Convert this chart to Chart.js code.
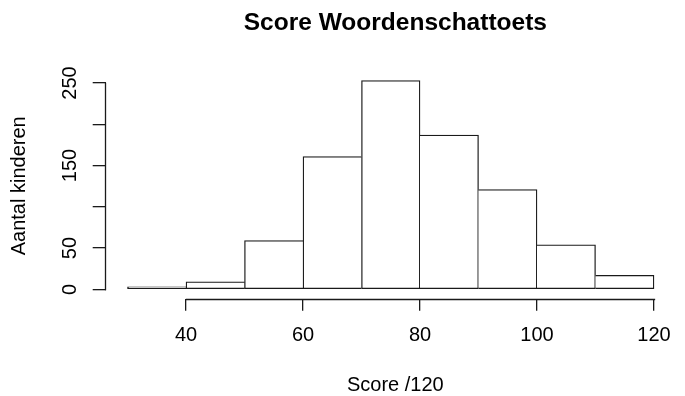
<!DOCTYPE html>
<html><head><meta charset="utf-8">
<script src="https://cdn.jsdelivr.net/npm/chart.js@4"></script>
<style>html,body{margin:0;padding:0;background:#fff}</style>
</head><body>
<canvas id="c" width="685" height="396"></canvas>
<script>
const binStarts = [30, 40, 50, 60, 70, 80, 90, 100, 110];
const binWidth = 10;
const counts = [3, 9, 59, 161, 253, 187, 121, 54, 17];
const xTicks = [40, 60, 80, 100, 120];
const xTickLabels = ['40', '60', '80', '100', '120'];
const yTicks = [0, 50, 100, 150, 200, 250];
const yTickLabels = ['0', '50', '', '150', '', '250'];
const titleText = 'Score Woordenschattoets';
const xTitle = 'Score /120';
const yTitle = 'Aantal kinderen';

const FONT = "'Liberation Sans', Arial, Helvetica, sans-serif";
const LINE = '#1a1a1a';
const LW = 1.3;
Chart.defaults.color = '#000';
Chart.defaults.font.family = FONT;

const points = binStarts.map((s, i) => ({ x: s + binWidth / 2, y: counts[i] }));

const axisLines = {
  id: 'axisLines',
  afterDatasetsDraw(chart) {
    const { ctx, chartArea, scales: { x, y } } = chart;
    ctx.save();
    ctx.strokeStyle = LINE;
    ctx.lineWidth = LW;
    ctx.lineCap = 'square';
    ctx.beginPath();
    const ax = Math.round(chartArea.left) - 0.5;
    ctx.moveTo(ax, Math.round(y.getPixelForValue(yTicks[0])) + 0.5);
    ctx.lineTo(ax, Math.round(y.getPixelForValue(yTicks[yTicks.length - 1])) + 0.5);
    const ay = Math.round(chartArea.bottom) + 0.5;
    ctx.moveTo(Math.round(x.getPixelForValue(xTicks[0])) + 0.5, ay);
    ctx.lineTo(Math.round(x.getPixelForValue(xTicks[xTicks.length - 1])) + 0.5, ay);
    ctx.stroke();
    ctx.restore();
  }
};

new Chart(document.getElementById('c'), {
  type: 'bar',
  data: {
    datasets: [{
      data: points,
      backgroundColor: '#fff',
      borderColor: LINE,
      borderSkipped: false,
      borderWidth: (c) => {
        const i = c.dataIndex;
        const v = counts[i], p = counts[i - 1], n = counts[i + 1];
        return {
          top: LW, bottom: LW,
          left: (p === undefined || p <= v) ? LW : 0,
          right: (n === undefined || n < v) ? LW : 0
        };
      },
      barPercentage: 1,
      categoryPercentage: 1
    }]
  },
  options: {
    responsive: false,
    animation: false,
    devicePixelRatio: 1,
    layout: { padding: 0 },
    plugins: {
      legend: { display: false },
      tooltip: { enabled: false },
      title: {
        display: true,
        text: titleText,
        fullSize: false,
        color: '#000',
        font: { size: 24.5, weight: 'bold', lineHeight: 1.2 },
        padding: { top: 8.8, bottom: 34.1 }
      }
    },
    scales: {
      x: {
        type: 'linear',
        offset: false,
        min: 26.27,
        max: 125.3,
        afterBuildTicks: (s) => { s.ticks = xTicks.map(v => ({ value: v })); },
        afterFit: (s) => { s.height = 96.7; },
        ticks: {
          autoSkip: false, minRotation: 0, maxRotation: 0, padding: 12.5,
          font: { size: 20 },
          callback: (v, i) => xTickLabels[i]
        },
        grid: { offset: false, drawOnChartArea: false, drawTicks: true, tickLength: 11.5, color: LINE, lineWidth: LW },
        border: { display: false },
        title: { display: true, text: xTitle, font: { size: 20, lineHeight: 1 }, padding: { top: 0, bottom: 1 } }
      },
      y: {
        min: -12.1,
        max: 263,
        afterBuildTicks: (s) => { s.ticks = yTicks.map(v => ({ value: v })); },
        afterFit: (s) => { s.width = 105.7; },
        ticks: {
          autoSkip: false, minRotation: 90, maxRotation: 90, crossAlign: 'center', padding: 6,
          font: { size: 20 },
          callback: (v, i) => yTickLabels[i]
        },
        grid: { drawOnChartArea: false, drawTicks: true, tickLength: 13, color: LINE, lineWidth: LW },
        border: { display: false },
        title: { display: true, text: yTitle, font: { size: 20, lineHeight: 1.2 }, padding: { top: 7, bottom: 0 } }
      }
    }
  },
  plugins: [axisLines]
});
</script>
</body></html>
